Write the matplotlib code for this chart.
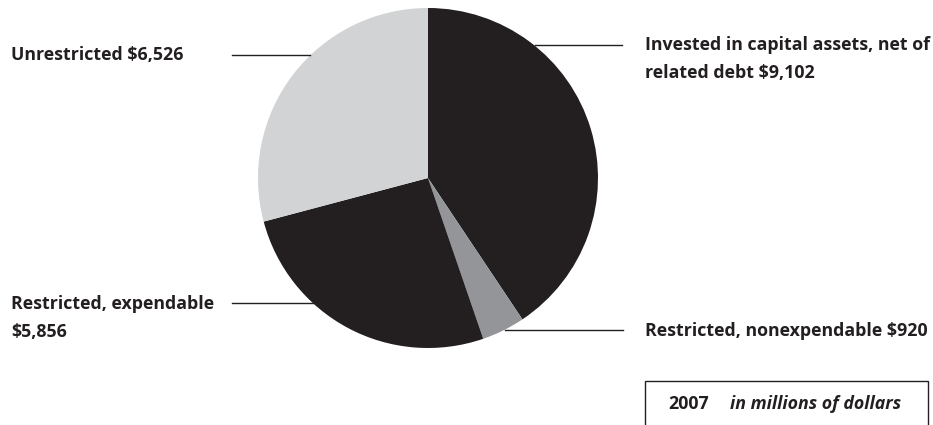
import matplotlib
matplotlib.use('Agg')
import matplotlib.pyplot as plt
from matplotlib.patches import Rectangle

# net assets 2007, millions of dollars
labels = ['Invested in capital assets, net of\nrelated debt $9,102',
          'Restricted, nonexpendable $920',
          'Restricted, expendable\n$5,856',
          'Unrestricted $6,526']
values = [9102, 920, 5856, 6526]
colors = ['#231f20', '#939598', '#231f20', '#d1d3d4']

W, H = 933, 425
fig = plt.figure(figsize=(W / 100, H / 100), dpi=100)
ax = fig.add_axes([0, 0, 1, 1])

cx, cy, r = 428, H - 178, 170
ax.pie(values, colors=colors, startangle=90, counterclock=False,
       center=(cx, cy), radius=r, wedgeprops=dict(linewidth=0))
ax.set_xlim(0, W)
ax.set_ylim(0, H)
ax.set_aspect('equal')
ax.axis('off')

fs = 12.8
txt = dict(fontsize=fs, fontweight='bold', color='#231f20', family='Open Sans')
lw = 1.0
# leader lines (y in pixels from top)
ax.plot([535, 622], [H - 45, H - 45], color='#231f20', lw=lw)
ax.plot([505, 623], [H - 330, H - 330], color='#231f20', lw=lw)
ax.plot([232, 318], [H - 303, H - 303], color='#231f20', lw=lw)
ax.plot([232, 310], [H - 55, H - 55], color='#231f20', lw=lw)

ax.text(645, H - 59, labels[0], va='center', ha='left', linespacing=1.75, **txt)
ax.text(645, H - 331, labels[1], va='center', ha='left', **txt)
ax.text(11, H - 318, labels[2], va='center', ha='left', linespacing=1.65, **txt)
ax.text(11, H - 55, labels[3], va='center', ha='left', **txt)

ax.add_patch(Rectangle((645, -10), 283, H - 381 + 10, fill=False,
                       edgecolor='#231f20', lw=1.0))
ax.text(668, H - 404, '2007', va='center', ha='left', **txt)
ax.text(730, H - 404, 'in millions of dollars', va='center', ha='left',
        style='italic', **txt)

fig.savefig('out.png', dpi=100)
